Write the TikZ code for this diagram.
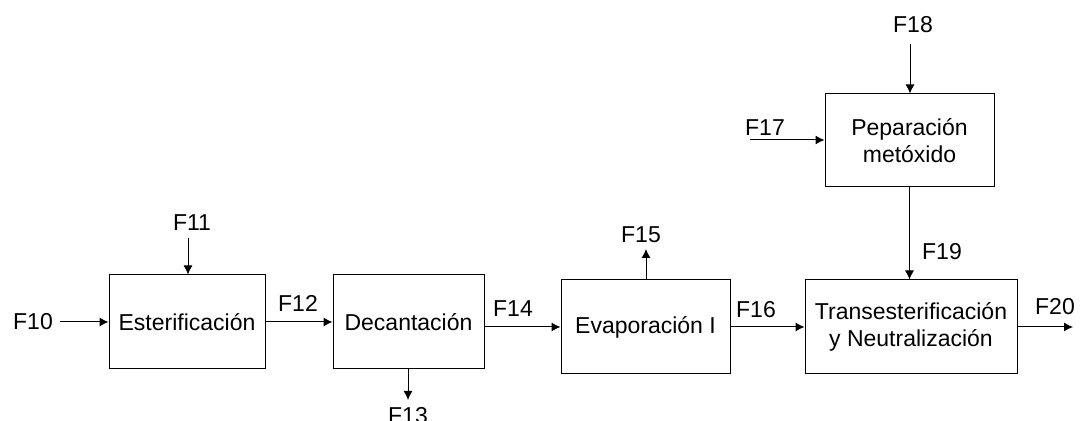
\documentclass[tikz,border=0pt]{standalone}
\usepackage{fontspec}
\setmainfont{Liberation Sans}
\usetikzlibrary{arrows.meta}
\begin{document}
\begin{tikzpicture}[x=0.5pt,y=-0.5pt,
  every node/.style={font=\fontsize{11.5}{13.5}\selectfont, inner sep=0pt},
  unit/.style={draw, line width=0.5pt, align=center, minimum height=47pt},
  flow/.style={line width=0.5pt, -{Latex[length=4.5pt,width=4.5pt]}}]
  \useasboundingbox (0,0) rectangle (1083,421);

  % process units
  \node[unit, minimum width=78pt]   (est)   at (187,322)   {Esterificación};
  \node[unit, minimum width=75.5pt] (dec)   at (408.5,322) {Decantación};
  \node[unit, minimum width=84.5pt] (evap)  at (645.5,327) {Evaporación I};
  \node[unit, minimum width=84.5pt, minimum height=46.5pt] (pep) at (909.5,140.5) {Peparación\\metóxido};
  \node[unit, minimum width=106pt]  (trans) at (911,327)   {Transesterificación\\y Neutralización};

  % stream labels
  \node (l10) at (33,322)   {F10};
  \node (l11) at (192,223)  {F11};
  \node (l12) at (298,303)  {F12};
  \node (l13) at (408,416)  {F13};
  \node (l14) at (513,309)  {F14};
  \node (l15) at (641,235)  {F15};
  \node (l16) at (756,310)  {F16};
  \node (l17) at (765,128)  {F17};
  \node (l18) at (913,25)   {F18};
  \node (l19) at (942,252)  {F19};
  \node (l20) at (1055,307) {F20};

  % free stream ends
  \coordinate (in10)  at (60,322);
  \coordinate (in11)  at (188,238);
  \coordinate (out13) at (408,400);
  \coordinate (out15) at (646,249);
  \coordinate (in17)  at (750,140);
  \coordinate (in18)  at (910,44);
  \coordinate (out20) at (1073,327);

  % streams
  \draw[flow] (in10) -- (est.west);
  \draw[flow] (in11) -- (in11 |- est.north);
  \draw[flow] (est.east) -- (dec.west);
  \draw[flow] (dec.south -| out13) -- (out13);
  \draw[flow] (evap.west -| dec.east) -- (evap.west);
  \draw[flow] (evap.north -| out15) -- (out15);
  \draw[flow] (evap.east) -- (trans.west);
  \draw[flow] (in17) -- (in17 -| pep.west);
  \draw[flow] (in18) -- (in18 |- pep.north);
  \draw[flow] (pep.south) -- (pep.south |- trans.north);
  \draw[flow] (trans.east) -- (out20);
\end{tikzpicture}
\end{document}
